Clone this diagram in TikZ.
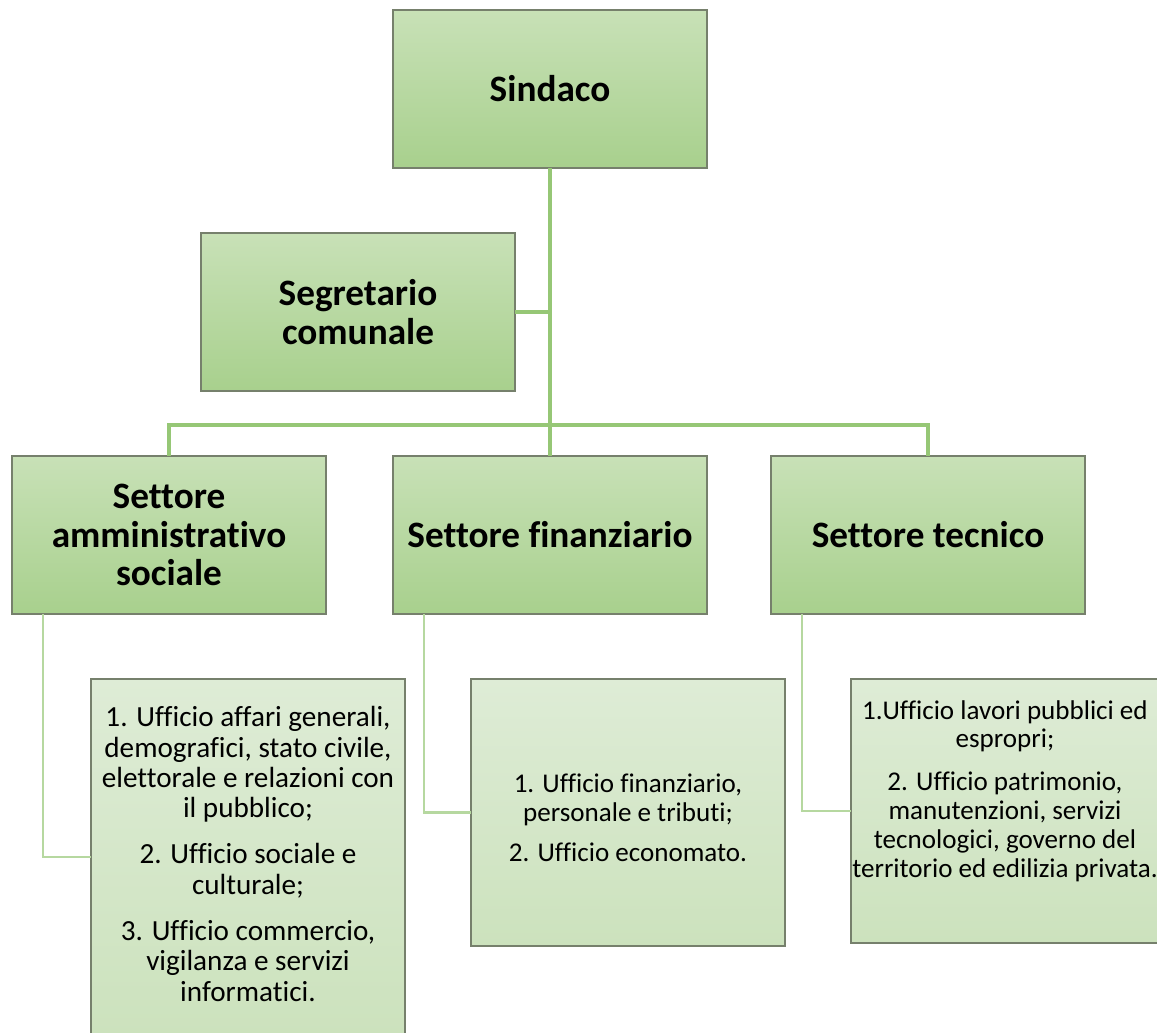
\documentclass[tikz,border=0pt]{standalone}
\usepackage{fontspec}
\setmainfont{Carlito}[Ligatures=NoCommon]
\usetikzlibrary{positioning, calc}

\definecolor{boxtop}{RGB}{200,225,183}
\definecolor{boxbottom}{RGB}{168,208,141}
\definecolor{officetop}{RGB}{222,236,214}
\definecolor{officebottom}{RGB}{204,226,189}
\definecolor{boxline}{RGB}{118,128,108}
\definecolor{linkgreen}{RGB}{150,199,118}
\definecolor{sublinkgreen}{RGB}{182,216,160}

\begin{document}
\begin{tikzpicture}[
                x=0.02cm, y=-0.02cm,
                sector/.style={draw=boxline, line width=0.8pt, top color=boxtop, bottom color=boxbottom,
                    minimum width=6.28cm, minimum height=3.16cm, inner sep=0pt, outer sep=0pt, align=center,
                    font=\bfseries\fontsize{21.2}{22}\selectfont},
                office/.style={draw=boxline, line width=0.8pt, top color=officetop, bottom color=officebottom,
                    minimum width=6.28cm, inner sep=0pt, outer sep=0pt},
                officetext/.style={inner sep=0pt, align=center, anchor=north,
                    font=\fontsize{15.4}{16.4}\selectfont},
                link/.style={draw=linkgreen, line width=2.2pt},
                sublink/.style={draw=sublinkgreen, line width=1.6pt},
            ]
                \useasboundingbox (0,0) rectangle (1157,1033);

                % Draw the top of the chart
                \node[sector] (sindaco) at (550,89) {Sindaco};
                \node[sector] (segretario) at (358,312) {Segretario\\comunale};

                % Draw the three sectors
                \node[sector] (s-amm) at (169,535) {Settore\\amministrativo\\sociale};
                \node[sector] (s-fin) at (550,535) {Settore finanziario};
                \node[sector] (s-tec) at (928,535) {Settore tecnico};

                % Draw the offices of each sector
                \node[office, minimum height=7.12cm] (u-amm) at (248,857) {};
                \node[office, minimum height=5.34cm] (u-fin) at (628,812.5) {};
                \node[office, minimum height=5.28cm] (u-tec) at (1008,811) {};

                \node[officetext, font=\fontsize{16.6}{17.3}\selectfont] (t-amm) at (248,706) {1. Ufficio affari generali,\\demografici, stato civile,\\elettorale e relazioni con\\il pubblico;\\[9pt]
                    2. Ufficio sociale e\\culturale;\\[9pt]3. Ufficio commercio,\\vigilanza e servizi\\informatici.};
                \node[officetext] (t-fin) at (628,774) {1. Ufficio finanziario,\\personale e tributi;\\[6pt]2. Ufficio economato.};
                \node[officetext] (t-tec) at (1005,700) {1.Ufficio lavori pubblici ed\\espropri;\\[8pt]
                    2. Ufficio patrimonio,\\manutenzioni, servizi\\tecnologici, governo del\\territorio ed edilizia privata.};

                % Connect the mayor with the secretary and the sectors
                \coordinate (hub) at (550,425);
                \draw[link] (sindaco.south) -- (hub);
                \draw[link] (segretario.east) -- (segretario.east -| hub);
                \foreach \name in {amm,fin,tec}
                    \draw[link] (hub) -| (s-\name.north);

                % Connect every sector with its offices
                \foreach \name in {amm,fin,tec}
                    \draw[sublink] ([xshift=0.62cm]s-\name.south west) |- (u-\name.west);
            \end{tikzpicture}
\end{document}
